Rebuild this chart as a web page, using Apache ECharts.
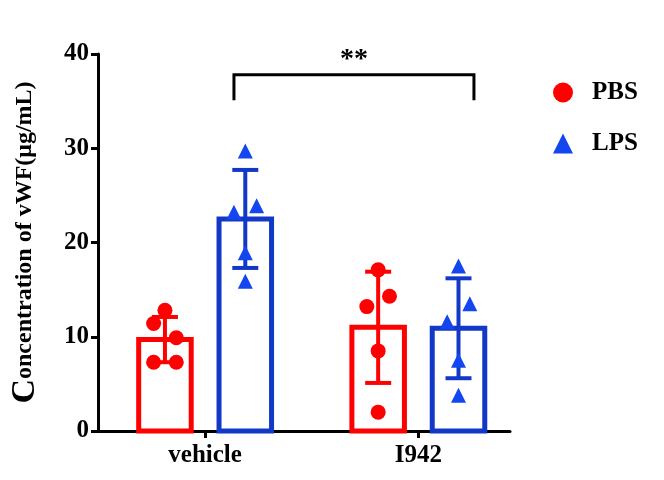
<!DOCTYPE html>
<html>
<head>
<meta charset="utf-8">
<script src="https://cdn.jsdelivr.net/npm/echarts@6/dist/echarts.min.js"></script>
<style>html,body{margin:0;padding:0;background:#fff}#main{width:664px;height:480px}</style>
</head>
<body>
<div id="main"></div>
<script>
var groupLabels = ['vehicle', 'I942'];
var groupPos = [1.04, 3.11];
var barPos = [0.65, 1.43, 2.72, 3.5];
var barGroup = ['PBS', 'LPS', 'PBS', 'LPS'];
var barMean = [9.7, 22.5, 11.0, 10.9];
var barSD = [2.4, 5.2, 5.9, 5.3];
var pbsPoints = [[0.65, 12.8], [0.54, 11.4], [0.76, 9.9], [0.54, 7.3], [0.76, 7.3],
                 [2.72, 17.1], [2.83, 14.3], [2.61, 13.2], [2.72, 8.5], [2.72, 2.0]];
var lpsPoints = [[1.43, 29.7], [1.32, 23.2], [1.54, 23.9], [1.43, 18.9], [1.43, 15.9],
                 [3.5, 17.5], [3.61, 13.5], [3.39, 11.6], [3.5, 7.5], [3.5, 3.8]];
var bracket = [1.32, 3.65, 37.8, 35.1];

var colors = {PBS: '#ff0000', LPS: '#1238c8'};
var font = 'Liberation Serif';

var myChart = echarts.init(document.getElementById('main'));

var barData = barPos.map(function (x, i) { return [x, barMean[i], barSD[i], barGroup[i]]; });

var option = {
    animation: false,
    grid: {left: 90, right: 154, top: 54, bottom: 49},
    legend: {
        orient: 'vertical', left: 548, top: 75, itemGap: 26,
        itemWidth: 20, itemHeight: 20,
        data: ['PBS', 'LPS'],
        textStyle: {fontFamily: font, fontWeight: 'bold', fontSize: 25, color: '#000', padding: [0, 0, 0, 14]}
    },
    xAxis: {
        type: 'value', min: 0, max: 4,
        splitLine: {show: false},
        axisLine: {lineStyle: {color: '#000', width: 3}},
        axisTick: {customValues: groupPos, length: 7, lineStyle: {color: '#000', width: 3}},
        axisLabel: {
            customValues: groupPos, margin: 12,
            formatter: function (v) {
                var i = groupPos.indexOf(v);
                return i >= 0 ? groupLabels[i] : '';
            },
            fontFamily: font, fontWeight: 'bold', fontSize: 25, color: '#000'
        }
    },
    yAxis: {
        type: 'value', min: 0, max: 40, interval: 10,
        name: '{big|C}oncentration of vWF(μg/mL)',
        nameLocation: 'middle', nameGap: 56,
        nameTextStyle: {
            fontFamily: font, fontWeight: 'bold', fontSize: 24, color: '#000',
            rich: {big: {fontFamily: font, fontWeight: 'bold', fontSize: 34, color: '#000'}}
        },
        splitLine: {show: false},
        axisLine: {show: true, lineStyle: {color: '#000', width: 3}},
        axisTick: {show: true, length: 7, lineStyle: {color: '#000', width: 3}},
        axisLabel: {fontFamily: font, fontWeight: 'bold', fontSize: 25, color: '#000', margin: 9}
    },
    series: [
        {
            name: 'bars', type: 'custom', data: barData, z: 2,
            renderItem: function (params, api) {
                var x = api.value(0), m = api.value(1), sd = api.value(2);
                var c = colors[barData[params.dataIndex][3]];
                var p0 = api.coord([x - 0.255, m]);
                var p1 = api.coord([x + 0.255, 0]);
                var top = api.coord([x, m + sd]), bot = api.coord([x, m - sd]);
                var cw = 13;
                var ls = {stroke: c, lineWidth: 4, fill: null};
                return {type: 'group', children: [
                    {type: 'rect', shape: {x: p0[0], y: p0[1], width: p1[0] - p0[0], height: p1[1] - p0[1]},
                     style: {fill: '#fff', stroke: c, lineWidth: 5}},
                    {type: 'line', shape: {x1: top[0], y1: top[1], x2: bot[0], y2: bot[1]}, style: ls},
                    {type: 'line', shape: {x1: top[0] - cw, y1: top[1], x2: top[0] + cw, y2: top[1]}, style: ls},
                    {type: 'line', shape: {x1: bot[0] - cw, y1: bot[1], x2: bot[0] + cw, y2: bot[1]}, style: ls}
                ]};
            }
        },
        {
            name: 'PBS', type: 'scatter', data: pbsPoints, symbol: 'circle', symbolSize: 15, z: 5,
            itemStyle: {color: '#ff0000', opacity: 1}
        },
        {
            name: 'LPS', type: 'scatter', data: lpsPoints, symbol: 'triangle', symbolSize: 15, z: 5,
            itemStyle: {color: '#1446f0', opacity: 1}
        },
        {
            name: 'sig', type: 'custom', data: [bracket], z: 3,
            renderItem: function (params, api) {
                var a = api.coord([api.value(0), api.value(2)]);
                var b = api.coord([api.value(1), api.value(2)]);
                var d = api.coord([api.value(0), api.value(3)]);
                var st = {stroke: '#000', lineWidth: 3, fill: null};
                return {type: 'group', children: [
                    {type: 'polyline', shape: {points: [[a[0], d[1]], a, b, [b[0], d[1]]]}, style: st},
                    {type: 'text', style: {text: '**', x: (a[0] + b[0]) / 2, y: a[1] - 15,
                        align: 'center', verticalAlign: 'middle',
                        font: 'bold 28px "Liberation Serif"', fill: '#000'}}
                ]};
            }
        }
    ]
};
myChart.setOption(option);
</script>
</body>
</html>
